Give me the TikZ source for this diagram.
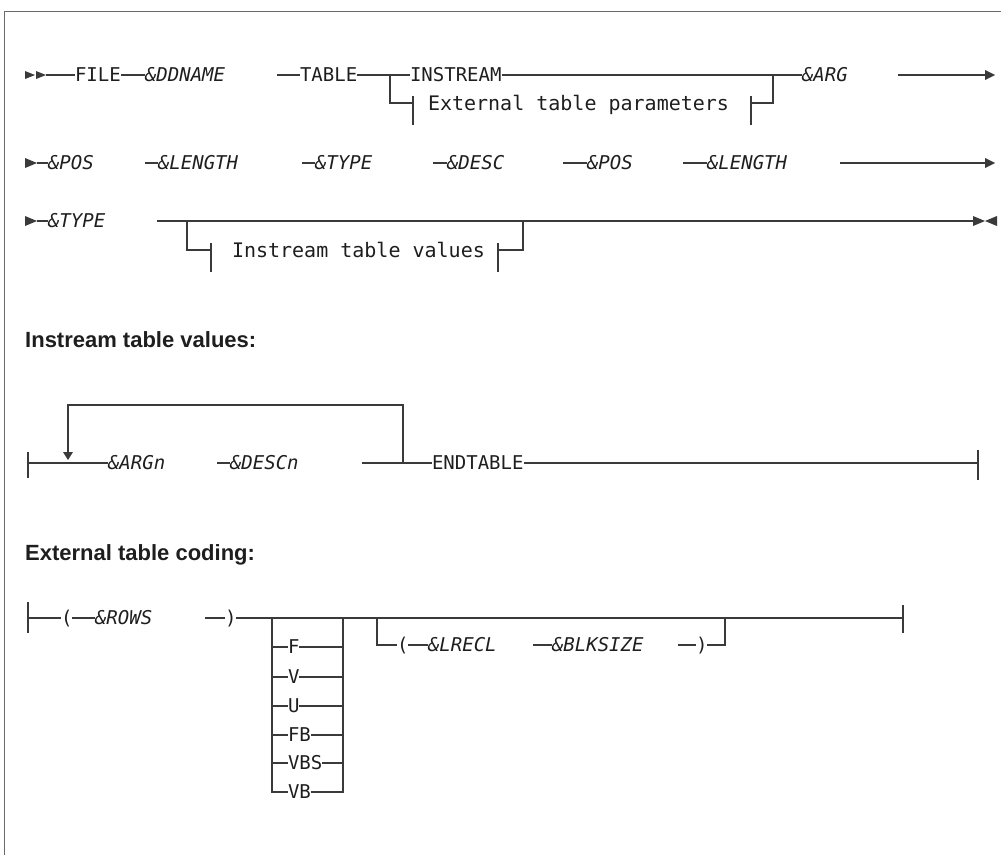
\documentclass[tikz,border=0pt]{standalone}
\usepackage{fontspec}
\setmonofont{DejaVu Sans Mono}
\setsansfont{Liberation Sans}
\definecolor{linecol}{HTML}{3A3A3A}
\definecolor{txtcol}{HTML}{1E1E1E}
\definecolor{framecol}{HTML}{6A6A6A}
\tikzset{
  rr/.style={draw=linecol, line width=1.3pt},
  tickline/.style={draw=linecol, line width=1.3pt},
  kw/.style={inner sep=0pt, outer sep=0pt, anchor=west, text=txtcol,
    font=\fontsize{19}{20}\selectfont\ttfamily, text height=13.8pt, text depth=0pt},
  var/.style={kw, font=\fontsize{19}{20}\selectfont\ttfamily\itshape},
  lbl/.style={kw, font=\fontsize{20}{22}\selectfont\ttfamily, text height=14.5pt},
  head/.style={inner sep=0pt, anchor=base west, text=txtcol,
    font=\fontsize{22}{24}\selectfont\sffamily\bfseries},
  tip/.style={fill=linecol, draw=none},
  frame/.style={draw=framecol, line width=1.6pt}
}
\begin{document}
\begin{tikzpicture}[x=1pt,y=-1pt]
\useasboundingbox (0,0) rectangle (1001,855);
% frame
\draw[frame] (4.5,855) -- (4.5,11.5) -- (1001,11.5);

% ---------------- Row 1 (y=75)
\fill[tip] (25,71) -- (35,75) -- (25,79) -- cycle;
\fill[tip] (36,71) -- (46,75) -- (36,79) -- cycle;
\coordinate (r1s) at (46,75);
\node[kw]  (FILE)  at (75,75)  {FILE};
\node[var] (DDN)   at (145,75) {\&DDNAME};
\coordinate (t1) at (277,75);
\node[kw]  (TABLE) at (300,75) {TABLE};
\node[kw]  (INS)   at (410,75) {INSTREAM};
\node[var] (ARG)   at (802,75) {\&ARG};
\node[lbl] (EXT)   at (428,103) {External table parameters};
\coordinate (b1) at (390,75);
\coordinate (b1e) at (773,75);
\coordinate (k1) at (413,103);
\coordinate (k2) at (751,103);
\coordinate (e1s) at (898,75);
\coordinate (e1) at (985,75);
\draw[rr] (r1s) -- (FILE.west);
\draw[rr] (FILE.east) -- (DDN.west);
\draw[rr] (t1) -- (TABLE.west);
\draw[rr] (TABLE.east) -- (INS.west);
\draw[rr] (INS.east) -- (ARG.west);
\draw[rr] (b1) |- (k1);
\draw[tickline] (413,96) -- (413,125);
\draw[tickline] (751,96) -- (751,125);
\draw[rr] (k2) -| (b1e);
\draw[rr] (e1s) -- (e1);
\fill[tip] (985,70) -- (995,75) -- (985,80) -- cycle;

% ---------------- Row 2 (y=163)
\fill[tip] (25,158) -- (37,163) -- (25,168) -- cycle;
\coordinate (r2s) at (37,163);
\node[var] (POSa) at (48,163)  {\&POS};
\coordinate (d2a) at (145,163);
\node[var] (LENa) at (158,163) {\&LENGTH};
\coordinate (d2b) at (302,163);
\node[var] (TYPa) at (315,163) {\&TYPE};
\coordinate (d2c) at (433,163);
\node[var] (DESC) at (447,163) {\&DESC};
\coordinate (d2d) at (563,163);
\node[var] (POSb) at (587,163) {\&POS};
\coordinate (d2e) at (683,163);
\node[var] (LENb) at (707,163) {\&LENGTH};
\coordinate (e2s) at (840,163);
\coordinate (e2) at (985,163);
\draw[rr] (r2s) -- (POSa.west);
\draw[rr] (d2a) -- (LENa.west);
\draw[rr] (d2b) -- (TYPa.west);
\draw[rr] (d2c) -- (DESC.west);
\draw[rr] (d2d) -- (POSb.west);
\draw[rr] (d2e) -- (LENb.west);
\draw[rr] (e2s) -- (e2);
\fill[tip] (985,158) -- (995,163) -- (985,168) -- cycle;

% ---------------- Row 3 (y=221)
\fill[tip] (25,216) -- (37,221) -- (25,226) -- cycle;
\coordinate (r3s) at (37,221);
\node[var] (TYPb) at (48,221) {\&TYPE};
\coordinate (l3s) at (157,221);
\coordinate (e3) at (973,221);
\coordinate (b3) at (187,221);
\coordinate (b3e) at (523,221);
\coordinate (k3) at (211,250);
\coordinate (k4) at (498,250);
\node[lbl] (ITV) at (232,250) {Instream table values};
\draw[rr] (r3s) -- (TYPb.west);
\draw[rr] (l3s) -- (e3);
\draw[rr] (b3) |- (k3);
\draw[tickline] (211,243) -- (211,272);
\draw[tickline] (498,243) -- (498,272);
\draw[rr] (k4) -| (b3e);
\fill[tip] (973,216) -- (985,221) -- (973,226) -- cycle;
\fill[tip] (997,216) -- (985,221) -- (997,226) -- cycle;

% ---------------- Instream table values
\node[head] (H1) at (25,347) {Instream table values:};
\coordinate (s4) at (28,463);
\draw[tickline] (28,452) -- (28,478);
\node[var] (ARGn)  at (108,463) {\&ARGn};
\coordinate (d4a) at (217,463);
\node[var] (DESCn) at (230,463) {\&DESCn};
\coordinate (d4b) at (362,463);
\node[kw]  (ENDT)  at (432,463) {ENDTABLE};
\coordinate (e4) at (978,463);
\coordinate (lpA) at (68,453);
\coordinate (lpB) at (403,463);
\draw[rr] (s4) -- (ARGn.west);
\draw[rr] (d4a) -- (DESCn.west);
\draw[rr] (d4b) -- (ENDT.west);
\draw[rr] (ENDT.east) -- (e4);
\draw[tickline] (978,450) -- (978,480);
\draw[rr] (lpB) |- (68,405) -- (lpA);
\fill[tip] (63,452) -- (73,452) -- (68,460) -- cycle;

% ---------------- External table coding
\node[head] (H2) at (25,560) {External table coding:};
\coordinate (s5) at (28,618);
\draw[tickline] (28,602) -- (28,633);
\node[kw]  (LPa)  at (61,618)  {(};
\node[var] (ROWS) at (95,618)  {\&ROWS};
\coordinate (d5a) at (205,618);
\node[kw]  (RPa)  at (225,618) {)};
\coordinate (e5) at (903,618);
\draw[tickline] (903,605) -- (903,633);
\draw[rr] (s5) -- (LPa.west);
\draw[rr] (LPa.east) -- (ROWS.west);
\draw[rr] (d5a) -- (RPa.west);
\draw[rr] (RPa.east) -- (e5);
% choice block
\coordinate (cj1) at (272,618);
\coordinate (cj2) at (343,618);
\node[kw] (oF)   at (288,647) {F};
\node[kw] (oV)   at (288,677) {V};
\node[kw] (oU)   at (288,706) {U};
\node[kw] (oFB)  at (288,735) {FB};
\node[kw] (oVBS) at (288,763) {VBS};
\node[kw] (oVB)  at (288,792) {VB};
\draw[rr] (cj1) |- (oVB.west);
\draw[rr] (oVB.east) -| (cj2);
\foreach \o in {oF,oV,oU,oFB,oVBS}{
  \draw[rr] (cj1 |- \o.west) -- (\o.west);
  \draw[rr] (\o.east) -- (cj2 |- \o.east);
}
% optional record group
\coordinate (oj1) at (377,618);
\coordinate (oj2) at (725,618);
\node[kw]  (LPb)  at (397,645) {(};
\node[var] (LREC) at (428,645) {\&LRECL};
\coordinate (d5b) at (533,645);
\node[var] (BLK)  at (552,645) {\&BLKSIZE};
\coordinate (d5c) at (678,645);
\node[kw]  (RPb)  at (696,645) {)};
\draw[rr] (oj1) |- (LPb.west);
\draw[rr] (LPb.east) -- (LREC.west);
\draw[rr] (d5b) -- (BLK.west);
\draw[rr] (d5c) -- (RPb.west);
\draw[rr] (RPb.east) -| (oj2);
\end{tikzpicture}
\end{document}
